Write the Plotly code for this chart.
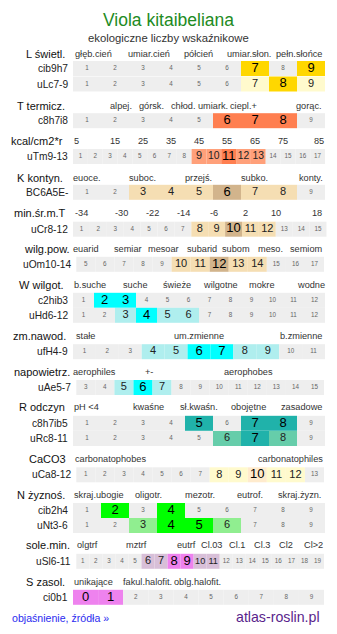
import plotly.graph_objects as go

# ---------------------------------------------------------------- data
TITLE = "Viola kitaibeliana"
SUBTITLE = "ekologiczne liczby wskaźnikowe"
FOOT_LEFT = "objaśnienie, źródła »"
FOOT_RIGHT = "atlas-roslin.pl"

SECTION_NAMES = ["L świetl.", "T termicz.", "kcal/cm2*r", "K kontyn.", "min.śr.m.T",
                 "wilg.pow.", "W wilgot.", "zm.nawod.", "napowietrz.", "R odczyn",
                 "CaCO3", "N żyznoś.", "sole.min.", "S zasol."]

SCALE_LABELS = [
    ["głęb.cień", "umiar.cień", "półcień", "umiar.słon.", "pełn.słońce"],
    ["alpej.", "górsk.", "chłod.", "umiark.", "ciepl.+", "gorąc."],
    ["5", "15", "25", "35", "45", "55", "65", "75", "85"],
    ["euoce.", "suboc.", "przejś.", "subko.", "konty."],
    ["-34", "-30", "-22", "-14", "-6", "2", "10", "18"],
    ["euarid", "semiar", "mesoar", "subarid", "subom", "meso.", "semiom"],
    ["b.suche", "suche", "świeże", "wilgotne", "mokre", "wodne"],
    ["stałe", "um.zmienne", "b.zmienne"],
    ["aerophiles", "+-", "aerophobes"],
    ["pH <4", "kwaśne", "sł.kwaśn.", "obojętne", "zasadowe"],
    ["carbonatophobes", "carbonatophiles"],
    ["skraj.ubogie", "oligotr.", "mezotr.", "eutrof.", "skraj.żyzn."],
    ["olgtrf", "mztrf", "eutrf", "Cl.03", "Cl.1", "Cl.3", "Cl2", "Cl>2"],
    ["unikające", "fakul.halofit.", "oblg.halofit."],
]

ROW_CODES = [["cib9h7", "uLc7-9"], ["c8h7i8"], ["uTm9-13"], ["BC6A5E-"], ["uCr8-12"],
             ["uOm10-14"], ["c2hib3", "uHd6-12"], ["ufH4-9"], ["uAe5-7"],
             ["c8h7ib5", "uRc8-11"], ["uCa8-12"], ["cib2h4", "uNt3-6"], ["uSl6-11"],
             ["ci0b1"]]

# first and last value of each scale row
ROW_SPAN = [[(1, 9), (1, 9)], [(1, 9)], [(1, 17)], [(1, 9)], [(1, 15)], [(5, 17)],
            [(1, 12), (1, 12)], [(1, 11)], [(3, 15)], [(1, 9), (1, 9)], [(1, 13)],
            [(1, 9), (1, 9)], [(1, 19)], [(0, 9)]]

# optimum values (strong colour) and tolerated range (light colour)
ROW_STRONG = [[[7, 9], [8]], [[6, 7, 8]], [[11]], [[6]], [[10]], [[12]],
              [[2, 3], [4]], [[6, 7]], [[6]], [[5, 7, 8], [7]], [[10]],
              [[2, 4], [4, 5]], [[8, 9]], [[0, 1]]]
ROW_WEAK = [[[], [7, 9]], [[]], [[9, 10, 12, 13]], [[3, 4, 5, 7, 8]], [[8, 9, 11, 12]],
            [[10, 11, 13, 14]], [[], [3, 5, 6]], [[4, 5, 8, 9]], [[5, 7]],
            [[], [6, 8]], [[8, 9, 11, 12]], [[], [3, 6]], [[6, 7, 10, 11]], [[]]]

# ---------------------------------------------------------------- layout
W, H = 337, 634
FONT = "Liberation Sans, Arial, sans-serif"
CELL_GREY = "#eeeeee"
CELL_H = 15

PALETTE = [("#ffd700", "#fffacd"), ("#ff7f50", "#ffa07a"), ("#ff7f50", "#ffa07a"),
           ("#d2b48c", "#f5deb3"), ("#d2b48c", "#f5deb3"), ("#d2b48c", "#f5deb3"),
           ("#00ffff", "#afeeee"), ("#00ffff", "#afeeee"), ("#00ffff", "#afeeee"),
           ("#20b2aa", "#66cdaa"), ("#ffebcd", "#fffacd"), ("#00ff00", "#90ee90"),
           ("#ee82ee", "#d8bfd8"), ("#ee82ee", "#d8bfd8")]

HEADER_Y = [54, 105.7, 140.7, 177.7, 213.3, 249.3, 285, 335.7, 371.7, 407.3,
            459.3, 495, 545.3, 581.7]
HEADER_RIGHT = [66.7, 66.7, 65.3, 65.3, 67.7, 71.7, 66, 67.7, 71.7, 66.7,
                67.7, 66.7, 71.7, 66.7]
ROW_Y = [[68.5, 84], [120.7], [156.5], [192.3], [229.2], [264.3], [300.3, 315.3],
         [351.7], [387.5], [423.3, 438.5], [474.8], [510.5, 525.5], [561.3], [597.3]]
ROW_EXTENT = [(73, 325), (73, 325), (73, 325), (73, 325), (73, 326.5), (76.3, 324),
              (73, 325), (73, 325), (76.3, 324), (73, 325), (76.3, 324), (73, 325),
              (76.3, 324), (73, 324)]
SCALE_X = [
    [93, 148.7, 198.5, 248.8, 299],
    [120.8, 151.5, 183.3, 212.8, 243.5, 308.7],
    [76, 115, 143, 171, 199, 227, 255, 283, 318.8],
    [86.5, 142.8, 198.5, 254.7, 310.5],
    [81.7, 121.3, 152.5, 183, 214.2, 245, 276.3, 317.3],
    [85.5, 127.7, 163.3, 201.8, 235.7, 270.5, 306.8],
    [89.5, 135.5, 177.2, 220, 261.7, 310.5],
    [85, 199.3, 301.3],
    [94.8, 149.2, 248.7],
    [86.5, 148.8, 198.5, 248.3, 301.3],
    [110.2, 290.2],
    [99, 148.7, 200, 249.7, 299.8],
    [87, 136.7, 186.3, 211.2, 237.2, 262.2, 286.3, 313.3],
    [93.3, 147.3, 197],
]

# ---------------------------------------------------------------- build
bar_y, bar_base, bar_len, bar_col = [], [], [], []
txt_x, txt_y, txt, txt_size, txt_col = [], [], [], [], []
annotations = []


def note(x, y, text, size, color="#111", anchor="center"):
    annotations.append(dict(x=x, y=y, xref="x", yref="y", text=text, showarrow=False,
                            xanchor=anchor, yanchor="middle",
                            font=dict(family=FONT, size=size, color=color)))


note(W / 2, 20, TITLE, 17.5, "#228b22")
note(W / 2, 38.3, SUBTITLE, 11.3, "#333")

for s, name in enumerate(SECTION_NAMES):
    note(HEADER_RIGHT[s], HEADER_Y[s], name, 11, "#111", "right")
    for lab, lx in zip(SCALE_LABELS[s], SCALE_X[s]):
        note(lx, HEADER_Y[s], lab, 9.2, "#333")

    x0, x1 = ROW_EXTENT[s]
    strong_c, weak_c = PALETTE[s]
    for r, code in enumerate(ROW_CODES[s]):
        y = ROW_Y[s][r]
        note(x0 - 3.5, y, code, 10.2, "#222", "right")
        first, last = ROW_SPAN[s][r]
        values = list(range(first, last + 1))
        cw = (x1 - x0) / len(values)
        for i, v in enumerate(values):
            two_digit = len(str(v)) > 1
            if v in ROW_STRONG[s][r]:
                col, tc = strong_c, "#000"
                size = min(13, 0.88 * cw) if two_digit else 13
            elif v in ROW_WEAK[s][r]:
                col, tc = weak_c, "#222"
                size = min(11, 0.7 * cw) if two_digit else 11
            else:
                col, size, tc = CELL_GREY, 6.3, "#666"
            bar_y.append(y)
            bar_base.append(x0 + i * cw)
            bar_len.append(cw)
            bar_col.append(col)
            txt_x.append(x0 + (i + 0.5) * cw)
            txt_y.append(y)
            txt.append(str(v))
            txt_size.append(size)
            txt_col.append(tc)

note(10, 618.3, FOOT_LEFT, 10.6, "#2b2bf0", "left")
note(321.7, 616.7, FOOT_RIGHT, 14.2, "#5a1f8c", "right")

fig = go.Figure()
fig.add_trace(go.Bar(orientation="h", y=bar_y, x=bar_len, base=bar_base, width=CELL_H,
                     marker=dict(color=bar_col, line=dict(width=0)),
                     hoverinfo="skip", showlegend=False))
fig.add_trace(go.Scatter(x=txt_x, y=txt_y, text=txt, mode="text",
                         textposition="middle center",
                         textfont=dict(family=FONT, size=txt_size, color=txt_col),
                         hoverinfo="skip", showlegend=False))

fig.update_layout(
    width=W, height=H, autosize=False,
    margin=dict(l=0, r=0, t=0, b=0, pad=0),
    paper_bgcolor="white", plot_bgcolor="white",
    barmode="overlay", showlegend=False,
    xaxis=dict(range=[0, W], visible=False, fixedrange=True),
    yaxis=dict(range=[H, 0], visible=False, fixedrange=True),
    annotations=annotations,
)

fig.write_html("out.html", config={"displayModeBar": False})
